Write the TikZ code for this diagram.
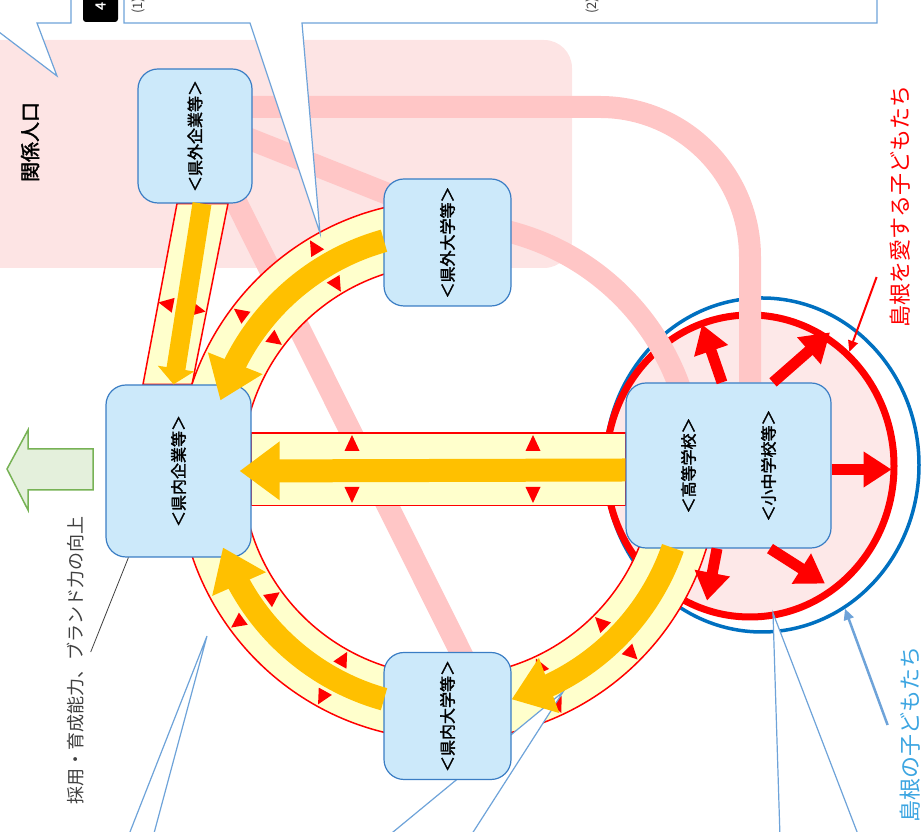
\documentclass[tikz,border=0pt]{standalone}
\usepackage{fontspec}
\setmainfont{Noto Sans CJK JP}[AutoFakeBold=2]
\usepackage{graphicx}
\usetikzlibrary{positioning,arrows.meta,bending,shapes.geometric}

\definecolor{boxfill}{RGB}{204,233,250}
\definecolor{boxline}{RGB}{58,125,196}
\definecolor{bgpink}{RGB}{253,228,228}
\definecolor{pinkline}{RGB}{255,198,198}
\definecolor{bandyellow}{RGB}{255,255,204}
\definecolor{flow}{RGB}{255,192,0}
\definecolor{circpink}{RGB}{253,232,232}
\definecolor{ringblue}{RGB}{0,112,192}
\definecolor{callblue}{RGB}{110,163,217}
\definecolor{kidsblue}{RGB}{60,165,225}
\definecolor{arrowgreen}{RGB}{119,178,85}
\definecolor{greenfill}{RGB}{228,240,220}
\definecolor{textgray}{RGB}{64,64,64}

\pgfdeclarelayer{bg}
\pgfdeclarelayer{circ}
\pgfdeclarelayer{pinkl}
\pgfdeclarelayer{band}
\pgfdeclarelayer{callout}
\pgfdeclarelayer{front}
\pgfsetlayers{bg,circ,pinkl,band,callout,main,front}

%pair of red marks across the ring
\newcommand{\ringmark}[1]{%
  \fill[red,shift={(ringc)},rotate=#1] (268,0) -- (253,7.5) -- (253,-7.5) -- cycle
    (208,0) -- (223,7.5) -- (223,-7.5) -- cycle;}
%pair of red marks across the straight band
\newcommand{\barmark}[1]{%
  \fill[red,shift={(#1,362)}] (0,35) -- (-7.5,19) -- (7.5,19) -- cycle
    (0,-33) -- (-7.5,-17) -- (7.5,-17) -- cycle;}

\begin{document}
\begin{tikzpicture}[x=1pt,y=1pt,every node/.style={inner sep=0pt},
  box/.style={rectangle,rounded corners=20pt,draw=boxline,fill=boxfill,line width=1.2pt,
    font=\bfseries\fontsize{16pt}{16pt}\selectfont},
  boxlabel/.style={rotate=90,font=\bfseries\fontsize{16pt}{16pt}\selectfont},
  ringband/.style={fill=bandyellow,draw=red,line width=1.5pt},
  flowarrow/.style={draw=flow,line width=23pt,-{Triangle[width=56pt,length=40pt]}},
  pinkband/.style={draw=pinkline,line width=22pt},
  rayarrow/.style={draw=red,line width=11pt,-{Triangle[width=34pt,length=28pt]}},
  calloutline/.style={draw=callblue,line width=1.2pt,fill=white}]

		\useasboundingbox (0,0) rectangle (922,832);
		\coordinate (ringc) at (448,362);

		%boxes
		\node[box,minimum width=114pt,minimum height=134pt] (gaikigyo) at (195,696) {\rotatebox{90}{＜県外企業等＞}};
		\node[box,minimum width=145pt,minimum height=172pt] (naikigyo) at (178.5,361) {\rotatebox{90}{＜県内企業等＞}};
		\node[box,minimum width=127pt,minimum height=127pt] (gaidai) at (447.5,589.5) {\rotatebox{90}{＜県外大学等＞}};
		\node[box,minimum width=127pt,minimum height=127pt] (naidai) at (447.5,116) {\rotatebox{90}{＜県内大学等＞}};
		\node[box,minimum width=205pt,minimum height=165pt] (gakko) at (728.5,366.5) {};
		\node[boxlabel] (koko) at ([xshift=-40pt]gakko.center) {＜高等学校＞};
		\node[boxlabel] (shochu) at ([xshift=40pt]gakko.center) {＜小中学校等＞};

		%texts
		\node[rotate=90,font=\bfseries\fontsize{20pt}{20pt}\selectfont] (kankei) at (30,690) {関係人口};
		\node[rotate=90,text=textgray,font=\fontsize{18pt}{18pt}\selectfont] (saiyo) at (76,171) {採用・育成能力、ブランド力の向上};
		\node[rotate=90,text=red,font=\fontsize{22pt}{22pt}\selectfont] (aisuru) at (900,625) {島根を愛する子どもたち};
		\node[rotate=90,text=kidsblue,font=\fontsize{22pt}{22pt}\selectfont] (kodomo) at (910,97) {島根の子どもたち};
		\node[fill=black,text=white,rounded corners=3pt,minimum width=35pt,minimum height=32pt,
		  font=\bfseries\fontsize{14pt}{14pt}\selectfont] (num) at (100.5,826) {\rotatebox{90}{4}};
		\node[rotate=90,anchor=west,text=textgray,font=\fontsize{13pt}{13pt}\selectfont] (paren1) at (138,818) {(1)};
		\node[rotate=90,anchor=west,text=textgray,font=\fontsize{13pt}{13pt}\selectfont] (paren2) at (592,818) {(2)};

		\begin{pgfonlayer}{circ}
		\node[ellipse,draw=ringblue,line width=3.5pt,minimum width=314pt,minimum height=334pt] (bluering) at (762,367) {};
		\node[ellipse,draw=red,fill=circpink,line width=7pt,minimum width=288pt,minimum height=302pt] (redring) at (750,366) {};
		\end{pgfonlayer}

		%red arrows out of the schools
		\draw[rayarrow] ([xshift=-6.5pt]gakko.north) -- ++(-20,58);
		\draw[rayarrow] ([xshift=44.5pt]gakko.north) -- ++(57,50);
		\draw[rayarrow] ([yshift=-4pt]gakko.east) -- ++(60,0);
		\draw[rayarrow] ([xshift=-11.5pt]gakko.south) -- ++(-10,-52);
		\draw[rayarrow] ([xshift=41.5pt]gakko.south) -- ++(55,-35);

		%pointers
		\draw[callblue,line width=2.5pt,-{Triangle[width=10pt,length=11pt]}] ([xshift=-12pt,yshift=10pt]kodomo.north) -- (bluering.-60);
		\draw[red,line width=2pt,-{Triangle[width=10pt,length=11pt]}] ([xshift=-13pt,yshift=-70pt]aisuru.north) -- (redring.49);
		\draw[textgray,line width=0.8pt] ([xshift=23pt]naikigyo.south west) -- ([xshift=6pt,yshift=9pt]saiyo.south);

		%green arrow
		\filldraw[fill=greenfill,draw=arrowgreen,line width=1.5pt] (93,383) -- (28,383) -- (28,402) -- (7,363)
		  -- (28,322) -- (28,342) -- (93,342) -- cycle;

		\begin{pgfonlayer}{bg}
		%related population area
		\fill[bgpink,rounded corners=28pt] (-40,564) rectangle (572,792);
		\end{pgfonlayer}

		\begin{pgfonlayer}{pinkl}
		\draw[pinkband] ([xshift=-8pt,yshift=29pt]gaikigyo.east) -- (600,725) arc[start angle=90,end angle=0,radius=150]
		  -- ([xshift=21.5pt]gakko.north);
		\draw[pinkband] ([xshift=-8pt,yshift=-1pt]gaikigyo.east) -- ([xshift=8pt,yshift=-17pt]gaidai.north west);
		\draw[pinkband] ([shift={(78:246)}]ringc) arc[start angle=78,end angle=18,radius=246];
		\draw[pinkband] ([xshift=38pt,yshift=8pt]gaikigyo.south) -- ([xshift=17pt,yshift=-8pt]naidai.north);
		\end{pgfonlayer}

		\begin{pgfonlayer}{band}
		%bands
		\filldraw[ringband] ([yshift=-34.5pt]naikigyo.east) rectangle ([yshift=32.5pt]gakko.west);
		\filldraw[ringband] ([xshift=-18pt]gaikigyo.south) -- ([xshift=33pt]gaikigyo.south)
		  -- ([xshift=13.5pt]naikigyo.north) -- ([xshift=-35.5pt]naikigyo.north) -- cycle;
		\filldraw[ringband] ([shift={(95:270)}]ringc) arc[start angle=95,end angle=175,radius=270]
		  -- ([shift={(175:206)}]ringc) arc[start angle=175,end angle=95,radius=206] -- cycle;
		\filldraw[ringband] ([shift={(185:270)}]ringc) arc[start angle=185,end angle=265,radius=270]
		  -- ([shift={(265:206)}]ringc) arc[start angle=265,end angle=185,radius=206] -- cycle;
		\filldraw[ringband] ([shift={(275:270)}]ringc) arc[start angle=275,end angle=350,radius=270]
		  -- ([shift={(350:206)}]ringc) arc[start angle=350,end angle=275,radius=206] -- cycle;

		%marks
		\ringmark{121} \ringmark{143}
		\ringmark{216} \ringmark{241}
		\ringmark{295} \ringmark{315}
		\barmark{352} \barmark{533}
		\fill[red,shift={(182,525)},rotate=-11] (-24,0) -- (-9,7.5) -- (-9,-7.5) -- cycle
		  (24,0) -- (9,7.5) -- (9,-7.5) -- cycle;
		\end{pgfonlayer}

		\begin{pgfonlayer}{callout}
		\filldraw[calloutline] (-5,840) -- (71,840) -- (71,809) -- (37,809) -- (57,756) -- (-5,803) -- cycle;
		\filldraw[calloutline] (124,840) -- (124,809) -- (250,809) -- (320,599) -- (302,809) -- (877,809) -- (877,840) -- cycle;
		\filldraw[calloutline] (128,-5) -- (207,196) -- (153,-5) -- cycle;
		\filldraw[calloutline] (387,-5) -- (563,140) -- (470,-5) -- cycle;
		\filldraw[calloutline] (780,-5) -- (773,219) -- (859,-5) -- cycle;
		\end{pgfonlayer}

		\begin{pgfonlayer}{front}
		%flows
		\draw[flowarrow] ([yshift=-4.5pt]gakko.west) -- ([xshift=-12pt]naikigyo.east);
		\draw[flowarrow] ([shift={(105.6:238)}]ringc) arc[start angle=105.6,end angle=163,radius=238];
		\draw[flowarrow] ([shift={(254.4:238)}]ringc) arc[start angle=254.4,end angle=199,radius=238];
		\draw[flowarrow] ([shift={(340.9:238)}]ringc) arc[start angle=340.9,end angle=285.5,radius=238];
		\draw[flowarrow,line width=19pt,-{Triangle[width=36pt,length=16pt]}] ([xshift=7pt]gaikigyo.south) -- ([xshift=-5pt]naikigyo.north);
		\end{pgfonlayer}

\end{tikzpicture}
\end{document}
